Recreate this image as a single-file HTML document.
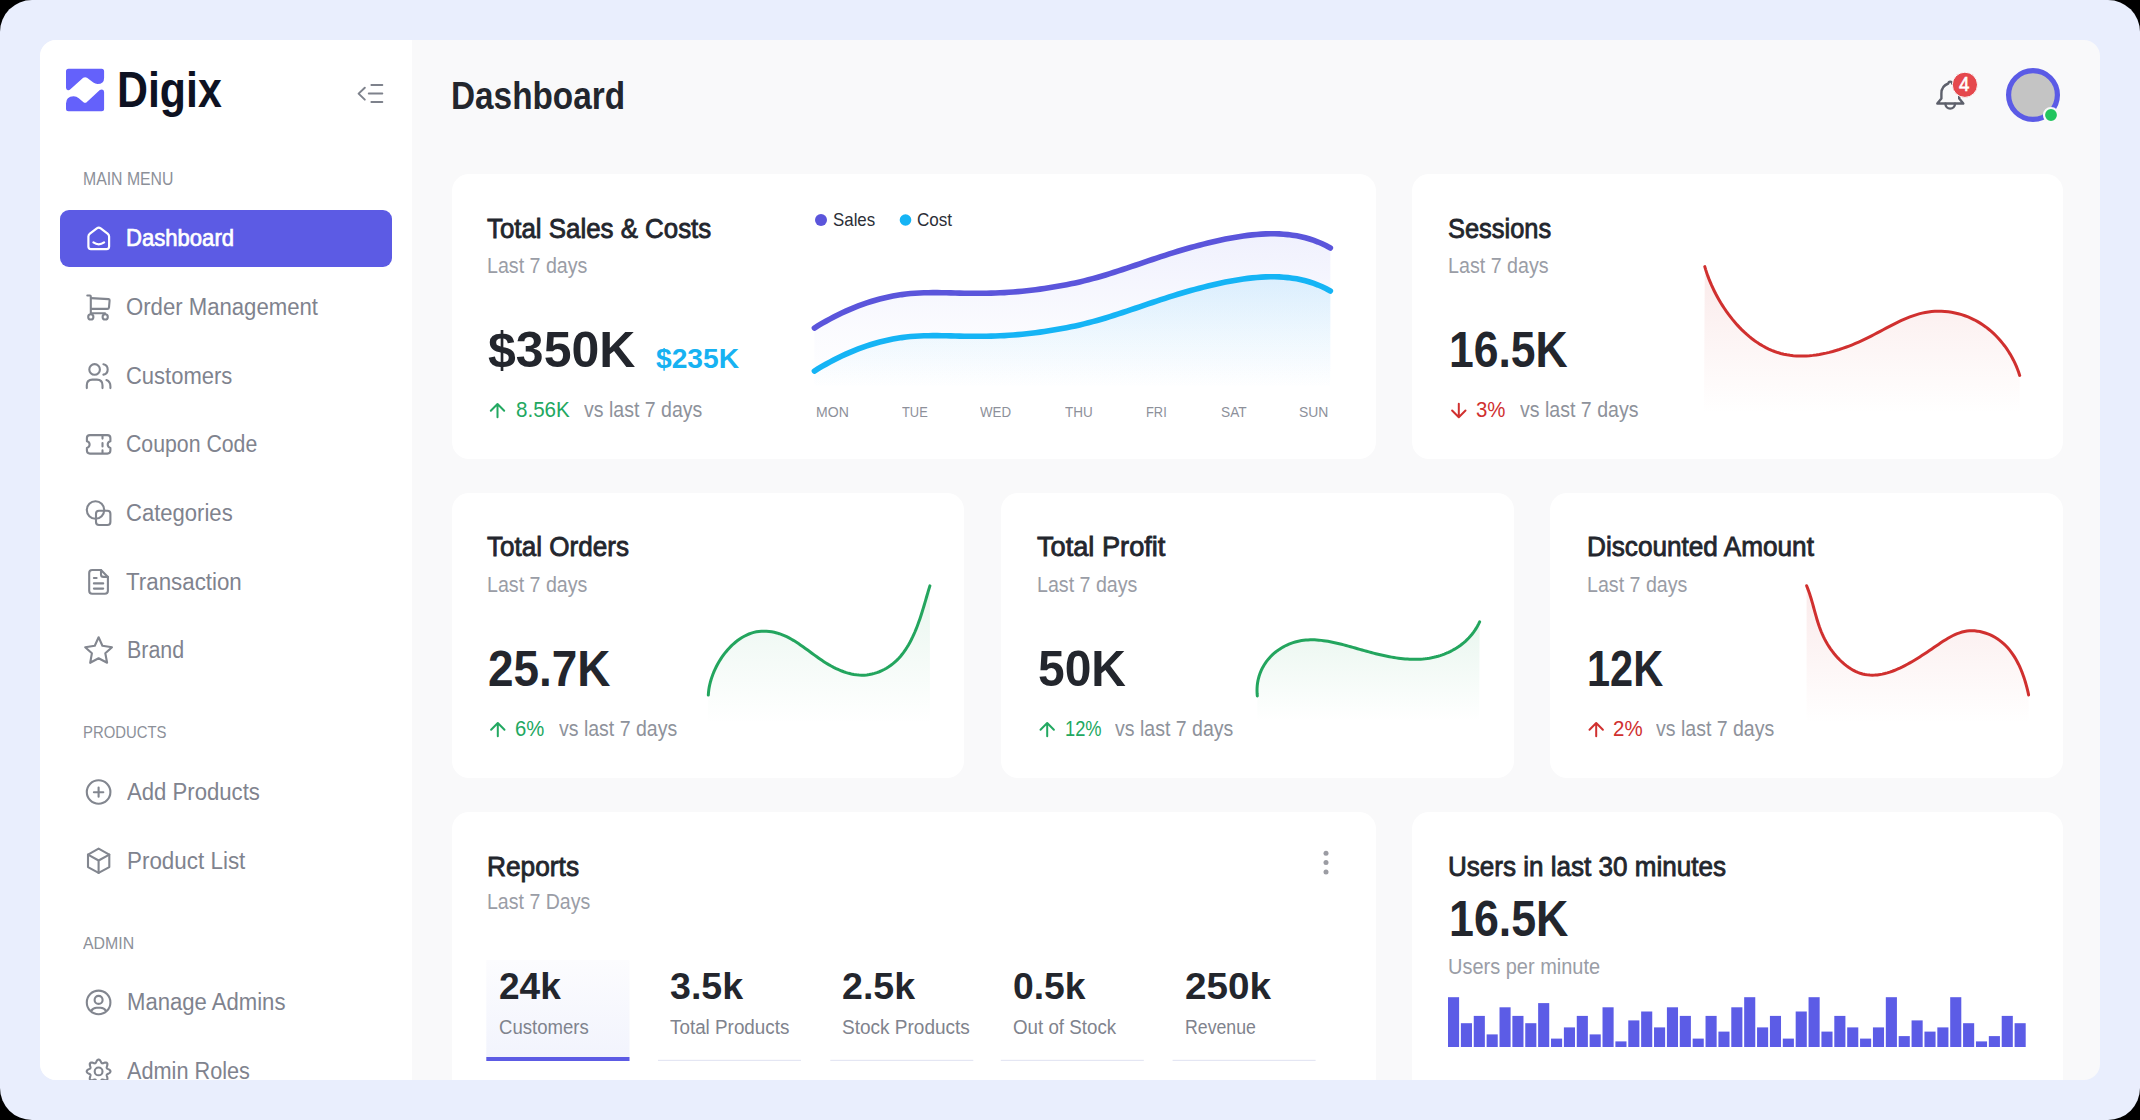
<!DOCTYPE html>
<html><head><meta charset="utf-8"><style>
html,body{margin:0;padding:0;background:#000;width:2140px;height:1120px;overflow:hidden}
#frame{position:absolute;left:0;top:0;width:2140px;height:1120px;border-radius:32px;background:#e9eefd;overflow:hidden}
#app{position:absolute;left:40px;top:40px;width:2060px;height:1040px;border-radius:16px;overflow:hidden;background:#f9f9fa}
#in{position:absolute;left:-40px;top:-40px;width:2140px;height:1120px}
#side{position:absolute;left:40px;top:40px;width:372px;height:1040px;background:#fff}
.card{position:absolute;background:#fff;border-radius:17px}
.active{position:absolute;left:60px;top:210px;width:332px;height:57px;border-radius:9px;background:#5c5be4}
.t{position:absolute;white-space:nowrap;font-family:"Liberation Sans",sans-serif;transform-origin:0 0}
svg{position:absolute;left:0;top:0}
</style></head><body>
<div id="frame"><div id="app"><div id="in">
<div id="side"></div>
<div class="active"></div>
<div class="card" style="left:452px;top:174px;width:924px;height:285px"></div><div class="card" style="left:1412px;top:174px;width:651px;height:285px"></div><div class="card" style="left:452px;top:493px;width:512px;height:285px"></div><div class="card" style="left:1001px;top:493px;width:513px;height:285px"></div><div class="card" style="left:1550px;top:493px;width:513px;height:285px"></div><div class="card" style="left:452px;top:812px;width:924px;height:400px"></div><div class="card" style="left:1412px;top:812px;width:651px;height:400px"></div>
<svg width="2140" height="1120" viewBox="0 0 2140 1120">
<g stroke="#fff" stroke-width="2.2" fill="none" stroke-linecap="round" stroke-linejoin="round"><path d="M88.4 246.5 V236.6 Q88.4 234.8 89.9 233.6 L96.8 228.3 Q98.75 226.9 100.7 228.3 L107.6 233.6 Q109.1 234.8 109.1 236.6 V246.5 Q109.1 249.1 106.5 249.1 H91 Q88.4 249.1 88.4 246.5 Z"/><path d="M93.4 242.4 Q98.75 246.2 104.1 242.4"/></g><g stroke="#82868f" stroke-width="2.1" fill="none" stroke-linecap="round" stroke-linejoin="round"><path d="M87.3 295.5 H90 Q90.8 295.5 90.8 296.5 V313.2"/><path d="M90.9 298.1 L108.6 299.1 Q109.7 299.2 109.6 300.3 L109 307.3 Q108.8 308.9 107.3 308.9 H91"/><path d="M91 313.2 H105"/><circle cx="90.8" cy="316.9" r="2.6"/><circle cx="105.2" cy="316.9" r="2.6"/></g><g stroke="#82868f" stroke-width="2.1" fill="none" stroke-linecap="round" stroke-linejoin="round"><circle cx="94.6" cy="369.4" r="5.3"/><path d="M103.4 364.2 A5.3 5.3 0 0 1 103.4 374.6"/><path d="M86.8 388.1 V385.2 Q86.8 379.6 92.4 379.6 H96.9 Q102.5 379.6 102.5 385.2 V388.1"/><path d="M106.4 380.1 Q110.4 381.6 110.4 386.2 V388.1"/></g><g stroke="#82868f" stroke-width="2.1" fill="none" stroke-linecap="round" stroke-linejoin="round"><path d="M89.9 435.1 H107.4 Q110.4 435.1 110.4 438.1 V441.3 Q107.7 442 107.7 444.6 Q107.7 447.2 110.4 447.9 V450.6 Q110.4 453.6 107.4 453.6 H89.9 Q86.9 453.6 86.9 450.6 V447.9 Q89.6 447.2 89.6 444.6 Q89.6 442 86.9 441.3 V438.1 Q86.9 435.1 89.9 435.1 Z"/><path d="M102.5 436 V438.6 M102.5 443 V446.4 M102.5 450.4 V452.8"/></g><g stroke="#82868f" stroke-width="2.1" fill="none" stroke-linecap="round" stroke-linejoin="round"><circle cx="95.5" cy="510" r="8.7"/><rect x="96" y="510.8" width="14.4" height="14.2" rx="3"/></g><g stroke="#82868f" stroke-width="2.1" fill="none" stroke-linecap="round" stroke-linejoin="round"><path d="M101 570 H92.2 Q89.2 570 89.2 573 V590.7 Q89.2 593.7 92.2 593.7 H104.9 Q107.9 593.7 107.9 590.7 V576.9 Z"/><path d="M101 570 V574.4 Q101 576.9 103.5 576.9 H107.9"/><path d="M93.9 578 H96.6 M93.9 583.4 H103.2 M93.9 588.6 H103.2"/></g><g stroke="#82868f" stroke-width="2.1" fill="none" stroke-linecap="round" stroke-linejoin="round"><path d="M98.6 637.3 L102.4 645.7 L112 647.2 L105.3 653.3 L107.1 662.8 L98.6 658.3 L90.2 662.8 L91.9 653.3 L85.2 647.2 L94.8 645.7 Z"/></g><g stroke="#82868f" stroke-width="2.1" fill="none" stroke-linecap="round" stroke-linejoin="round"><circle cx="98.6" cy="792" r="11.8"/><path d="M93.9 792.2 H103.3 M98.6 787.6 V796.8"/></g><g stroke="#82868f" stroke-width="2.1" fill="none" stroke-linecap="round" stroke-linejoin="round"><path d="M98.6 848.6 L109.3 854.6 V867.1 L98.6 872.9 L88 867.1 V854.6 Z"/><path d="M88 854.6 L98.6 860.5 L109.3 854.6 M98.6 860.5 V872.9"/></g><g stroke="#82868f" stroke-width="2.1" fill="none" stroke-linecap="round" stroke-linejoin="round"><circle cx="98.6" cy="1002.4" r="11.8"/><circle cx="98.6" cy="999.9" r="4"/><path d="M91.2 1010.9 Q93 1007.8 96.6 1007.8 H100.6 Q104.2 1007.8 106 1010.9"/></g><g stroke="#82868f" stroke-width="2.1" fill="none" stroke-linecap="round" stroke-linejoin="round"><path d="M110.50 1071.40 L110.42 1071.86 L110.17 1072.31 L109.78 1072.72 L109.30 1073.09 L108.75 1073.42 L108.20 1073.70 L107.68 1073.96 L107.25 1074.21 L106.93 1074.47 L106.73 1074.77 L106.66 1075.12 L106.70 1075.53 L106.84 1076.01 L107.02 1076.56 L107.21 1077.15 L107.36 1077.77 L107.44 1078.37 L107.42 1078.94 L107.28 1079.43 L107.01 1079.81 L106.63 1080.08 L106.14 1080.22 L105.57 1080.24 L104.97 1080.16 L104.35 1080.01 L103.76 1079.82 L103.21 1079.64 L102.73 1079.50 L102.32 1079.46 L101.97 1079.53 L101.67 1079.73 L101.41 1080.05 L101.16 1080.48 L100.90 1081.00 L100.62 1081.55 L100.29 1082.10 L99.92 1082.58 L99.51 1082.97 L99.06 1083.22 L98.60 1083.30 L98.14 1083.22 L97.69 1082.97 L97.28 1082.58 L96.91 1082.10 L96.58 1081.55 L96.30 1081.00 L96.04 1080.48 L95.79 1080.05 L95.53 1079.73 L95.23 1079.53 L94.88 1079.46 L94.47 1079.50 L93.99 1079.64 L93.44 1079.82 L92.85 1080.01 L92.23 1080.16 L91.63 1080.24 L91.06 1080.22 L90.57 1080.08 L90.19 1079.81 L89.92 1079.43 L89.78 1078.94 L89.76 1078.37 L89.84 1077.77 L89.99 1077.15 L90.18 1076.56 L90.36 1076.01 L90.50 1075.53 L90.54 1075.12 L90.47 1074.77 L90.27 1074.47 L89.95 1074.21 L89.52 1073.96 L89.00 1073.70 L88.45 1073.42 L87.90 1073.09 L87.42 1072.72 L87.03 1072.31 L86.78 1071.86 L86.70 1071.40 L86.78 1070.94 L87.03 1070.49 L87.42 1070.08 L87.90 1069.71 L88.45 1069.38 L89.00 1069.10 L89.52 1068.84 L89.95 1068.59 L90.27 1068.33 L90.47 1068.03 L90.54 1067.68 L90.50 1067.27 L90.36 1066.79 L90.18 1066.24 L89.99 1065.65 L89.84 1065.03 L89.76 1064.43 L89.78 1063.86 L89.92 1063.37 L90.19 1062.99 L90.57 1062.72 L91.06 1062.58 L91.63 1062.56 L92.23 1062.64 L92.85 1062.79 L93.44 1062.98 L93.99 1063.16 L94.47 1063.30 L94.88 1063.34 L95.23 1063.27 L95.53 1063.07 L95.79 1062.75 L96.04 1062.32 L96.30 1061.80 L96.58 1061.25 L96.91 1060.70 L97.28 1060.22 L97.69 1059.83 L98.14 1059.58 L98.60 1059.50 L99.06 1059.58 L99.51 1059.83 L99.92 1060.22 L100.29 1060.70 L100.62 1061.25 L100.90 1061.80 L101.16 1062.32 L101.41 1062.75 L101.67 1063.07 L101.97 1063.27 L102.32 1063.34 L102.73 1063.30 L103.21 1063.16 L103.76 1062.98 L104.35 1062.79 L104.97 1062.64 L105.57 1062.56 L106.14 1062.58 L106.63 1062.72 L107.01 1062.99 L107.28 1063.37 L107.42 1063.86 L107.44 1064.43 L107.36 1065.03 L107.21 1065.65 L107.02 1066.24 L106.84 1066.79 L106.70 1067.27 L106.66 1067.68 L106.73 1068.03 L106.93 1068.33 L107.25 1068.59 L107.68 1068.84 L108.20 1069.10 L108.75 1069.38 L109.30 1069.71 L109.78 1070.08 L110.17 1070.49 L110.42 1070.94 L110.50 1071.40 Z"/><circle cx="98.6" cy="1071.4" r="3.9"/></g><g stroke="#7e828c" stroke-width="2" fill="none" stroke-linecap="round" stroke-linejoin="round"><path d="M364.8 87.7 L358.6 93.6 L364.8 99.6 M371.4 85 H382.3 M368.8 93.6 H382.3 M371.4 102.1 H382.3"/></g><g fill="#6461fb"><path d="M68.5 68.7 H101.6 Q104.1 68.7 104.1 71.2 V78 Q104.1 84 97.5 84 Q95.2 84 93.3 82.6 L87 77.8 Q85.1 76.6 83.2 77.8 L70.4 89.3 Q68.7 90.7 67.5 90 Q66 89.4 66 87.4 V71.2 Q66 68.7 68.5 68.7 Z"/><path d="M68.5 111.2 H101.6 Q104.1 111.2 104.1 108.7 V91.9 Q104.1 89.6 102 89.4 Q100.9 89.3 99.8 90.1 L86.9 101.9 Q85.1 103.6 83.2 101.9 L78.8 98.2 Q76.5 96.3 73.6 96.3 Q66 96.6 66 103.5 V108.7 Q66 111.2 68.5 111.2 Z"/></g><g stroke="#5d606b" stroke-width="2.4" fill="none" stroke-linecap="round" stroke-linejoin="round"><path d="M1950.2 81.6 Q1952 81.6 1952.2 83.5 Q1959.2 86 1959.2 93.5 V98.6 L1963.3 103.5 H1937.3 L1941.4 98.6 V93.5 Q1941.4 86 1948.3 83.5 Q1948.5 81.6 1950.2 81.6 Z"/><path d="M1945.4 103.8 A4.8 4.8 0 0 0 1955 103.8"/></g><circle cx="1964.9" cy="84.8" r="12.6" fill="#e5484d" stroke="#fafafa" stroke-width="1"/><circle cx="2033" cy="95" r="24.4" fill="#c4c4c4" stroke="#5b5be6" stroke-width="5.2"/><circle cx="2051" cy="115" r="7" fill="#22c55e" stroke="#fafafa" stroke-width="2.2"/><g stroke="#22a861" stroke-width="2" fill="none" stroke-linecap="round" stroke-linejoin="round"><path d="M497.5 417.2 V404.4 M490.8 410.7 L497.5 404 L504.2 410.7"/></g><g stroke="#d0302f" stroke-width="2" fill="none" stroke-linecap="round" stroke-linejoin="round"><path d="M1458.8 403.8 V416.8 M1452.1 410.5 L1458.8 417.2 L1465.5 410.5"/></g><g stroke="#22a861" stroke-width="2" fill="none" stroke-linecap="round" stroke-linejoin="round"><path d="M497.8 736.2 V723.4 M491.1 729.7 L497.8 723 L504.5 729.7"/></g><g stroke="#22a861" stroke-width="2" fill="none" stroke-linecap="round" stroke-linejoin="round"><path d="M1047.2 736.2 V723.4 M1040.5 729.7 L1047.2 723 L1053.9 729.7"/></g><g stroke="#d0302f" stroke-width="2" fill="none" stroke-linecap="round" stroke-linejoin="round"><path d="M1596.2 736.2 V723.4 M1589.5 729.7 L1596.2 723 L1602.9 729.7"/></g><g fill="#9b9ca3"><circle cx="1326" cy="853.2" r="2.5"/><circle cx="1326" cy="862.6" r="2.5"/><circle cx="1326" cy="872" r="2.5"/></g><circle cx="821" cy="220" r="6" fill="#5b55db"/><circle cx="905.5" cy="220" r="5.8" fill="#15b4f5"/><g fill="#5c5ce6"><rect x="1448.00" y="997.20" width="11.1" height="49.80"/><rect x="1460.88" y="1023.20" width="11.1" height="23.80"/><rect x="1473.75" y="1015.90" width="11.1" height="31.10"/><rect x="1486.63" y="1034.40" width="11.1" height="12.60"/><rect x="1499.51" y="1007.30" width="11.1" height="39.70"/><rect x="1512.38" y="1015.90" width="11.1" height="31.10"/><rect x="1525.26" y="1023.20" width="11.1" height="23.80"/><rect x="1538.14" y="1003.10" width="11.1" height="43.90"/><rect x="1551.02" y="1038.60" width="11.1" height="8.40"/><rect x="1563.89" y="1027.40" width="11.1" height="19.60"/><rect x="1576.77" y="1015.90" width="11.1" height="31.10"/><rect x="1589.65" y="1034.40" width="11.1" height="12.60"/><rect x="1602.52" y="1007.30" width="11.1" height="39.70"/><rect x="1615.40" y="1041.40" width="11.1" height="5.60"/><rect x="1628.28" y="1020.40" width="11.1" height="26.60"/><rect x="1641.15" y="1011.50" width="11.1" height="35.50"/><rect x="1654.03" y="1027.40" width="11.1" height="19.60"/><rect x="1666.91" y="1007.30" width="11.1" height="39.70"/><rect x="1679.79" y="1015.90" width="11.1" height="31.10"/><rect x="1692.66" y="1038.60" width="11.1" height="8.40"/><rect x="1705.54" y="1015.90" width="11.1" height="31.10"/><rect x="1718.42" y="1031.60" width="11.1" height="15.40"/><rect x="1731.29" y="1007.30" width="11.1" height="39.70"/><rect x="1744.17" y="997.20" width="11.1" height="49.80"/><rect x="1757.05" y="1027.40" width="11.1" height="19.60"/><rect x="1769.92" y="1015.90" width="11.1" height="31.10"/><rect x="1782.80" y="1038.60" width="11.1" height="8.40"/><rect x="1795.68" y="1011.50" width="11.1" height="35.50"/><rect x="1808.56" y="997.20" width="11.1" height="49.80"/><rect x="1821.43" y="1031.60" width="11.1" height="15.40"/><rect x="1834.31" y="1015.90" width="11.1" height="31.10"/><rect x="1847.19" y="1027.40" width="11.1" height="19.60"/><rect x="1860.06" y="1038.60" width="11.1" height="8.40"/><rect x="1872.94" y="1027.40" width="11.1" height="19.60"/><rect x="1885.82" y="997.20" width="11.1" height="49.80"/><rect x="1898.70" y="1036.10" width="11.1" height="10.90"/><rect x="1911.57" y="1020.40" width="11.1" height="26.60"/><rect x="1924.45" y="1031.60" width="11.1" height="15.40"/><rect x="1937.33" y="1027.40" width="11.1" height="19.60"/><rect x="1950.20" y="997.20" width="11.1" height="49.80"/><rect x="1963.08" y="1023.20" width="11.1" height="23.80"/><rect x="1975.96" y="1041.40" width="11.1" height="5.60"/><rect x="1988.83" y="1036.10" width="11.1" height="10.90"/><rect x="2001.71" y="1015.90" width="11.1" height="31.10"/><rect x="2014.59" y="1023.20" width="11.1" height="23.80"/></g><defs><linearGradient id="tabg" x1="0" y1="960" x2="0" y2="1057" gradientUnits="userSpaceOnUse"><stop offset="0" stop-color="#fcfcfe"/><stop offset="1" stop-color="#f2f4fd"/></linearGradient></defs><rect x="486.3" y="960" width="143.2" height="97" fill="url(#tabg)"/><rect x="486.3" y="1057" width="143.2" height="4" fill="#5c5be4"/><rect x="658" y="1059.8" width="143" height="1.2" fill="#e4e6f3"/><rect x="830.3" y="1059.8" width="143" height="1.2" fill="#e4e6f3"/><rect x="1000.8" y="1059.8" width="143" height="1.2" fill="#e4e6f3"/><rect x="1172.6" y="1059.8" width="143" height="1.2" fill="#e4e6f3"/><defs><linearGradient id="gs" x1="0" y1="234" x2="0" y2="390" gradientUnits="userSpaceOnUse"><stop offset="0" stop-color="#6470ee" stop-opacity="0.10"/><stop offset="0.6" stop-color="#6470ee" stop-opacity="0.03"/><stop offset="1" stop-color="#6470ee" stop-opacity="0"/></linearGradient><linearGradient id="gc" x1="0" y1="277" x2="0" y2="388" gradientUnits="userSpaceOnUse"><stop offset="0" stop-color="#1ab8f8" stop-opacity="0.12"/><stop offset="1" stop-color="#15b4f5" stop-opacity="0"/></linearGradient></defs><path d="M814.40 328.08 L818.16 325.74 L821.97 323.46 L825.84 321.24 L829.75 319.08 L833.71 316.99 L837.71 314.96 L841.76 313.01 L845.84 311.13 L849.97 309.32 L854.13 307.60 L858.32 305.95 L862.55 304.39 L866.80 302.92 L871.09 301.54 L875.40 300.25 L879.73 299.05 L884.08 297.95 L888.45 296.96 L892.85 296.06 L897.25 295.28 L901.67 294.60 L906.10 294.03 L910.54 293.58 L914.99 293.22 L919.44 292.97 L923.90 292.79 L928.37 292.69 L932.84 292.65 L937.31 292.66 L941.79 292.71 L946.27 292.79 L950.75 292.89 L955.23 292.99 L959.71 293.10 L964.19 293.19 L968.67 293.26 L973.15 293.30 L977.62 293.31 L982.09 293.28 L986.55 293.22 L991.02 293.12 L995.48 292.98 L999.94 292.80 L1004.40 292.58 L1008.85 292.32 L1013.30 292.01 L1017.76 291.65 L1022.21 291.25 L1026.66 290.79 L1031.10 290.29 L1035.55 289.73 L1039.99 289.13 L1044.43 288.48 L1048.87 287.79 L1053.29 287.07 L1057.72 286.31 L1062.13 285.52 L1066.54 284.70 L1070.94 283.83 L1075.32 282.91 L1079.69 281.93 L1084.04 280.90 L1088.38 279.81 L1092.71 278.66 L1097.02 277.47 L1101.32 276.23 L1105.61 274.95 L1109.89 273.64 L1114.16 272.29 L1118.42 270.92 L1122.68 269.52 L1126.93 268.11 L1131.17 266.68 L1135.42 265.24 L1139.65 263.80 L1143.89 262.36 L1148.12 260.92 L1152.36 259.49 L1156.60 258.07 L1160.84 256.67 L1165.08 255.29 L1169.32 253.93 L1173.58 252.60 L1177.83 251.30 L1182.10 250.02 L1186.38 248.77 L1190.67 247.55 L1194.97 246.36 L1199.28 245.21 L1203.60 244.09 L1207.95 243.01 L1212.31 241.97 L1216.69 240.97 L1221.08 240.01 L1225.50 239.09 L1229.94 238.22 L1234.39 237.41 L1238.86 236.66 L1243.33 235.98 L1247.81 235.37 L1252.30 234.85 L1256.78 234.43 L1261.27 234.10 L1265.75 233.88 L1270.22 233.77 L1274.68 233.77 L1279.13 233.91 L1283.56 234.18 L1287.97 234.59 L1292.36 235.15 L1296.72 235.86 L1301.06 236.74 L1305.36 237.79 L1309.63 239.01 L1313.87 240.41 L1318.06 242.01 L1322.21 243.80 L1326.32 245.80 L1330.37 248.00 L1330.3 390 L814.4 390 Z" fill="url(#gs)"/><path d="M814.40 371.08 L818.16 368.74 L821.97 366.46 L825.84 364.24 L829.75 362.08 L833.71 359.99 L837.71 357.96 L841.76 356.01 L845.84 354.13 L849.97 352.32 L854.13 350.60 L858.32 348.95 L862.55 347.39 L866.80 345.92 L871.09 344.54 L875.40 343.25 L879.73 342.05 L884.08 340.95 L888.45 339.96 L892.85 339.06 L897.25 338.28 L901.67 337.60 L906.10 337.03 L910.54 336.58 L914.99 336.22 L919.44 335.97 L923.90 335.79 L928.37 335.69 L932.84 335.65 L937.31 335.66 L941.79 335.71 L946.27 335.79 L950.75 335.89 L955.23 335.99 L959.71 336.10 L964.19 336.19 L968.67 336.26 L973.15 336.30 L977.62 336.31 L982.09 336.28 L986.55 336.22 L991.02 336.12 L995.48 335.98 L999.94 335.80 L1004.40 335.58 L1008.85 335.32 L1013.30 335.01 L1017.76 334.65 L1022.21 334.25 L1026.66 333.79 L1031.10 333.29 L1035.55 332.73 L1039.99 332.13 L1044.43 331.48 L1048.87 330.79 L1053.29 330.07 L1057.72 329.31 L1062.13 328.52 L1066.54 327.70 L1070.94 326.83 L1075.32 325.91 L1079.69 324.93 L1084.04 323.90 L1088.38 322.81 L1092.71 321.66 L1097.02 320.47 L1101.32 319.23 L1105.61 317.95 L1109.89 316.64 L1114.16 315.29 L1118.42 313.92 L1122.68 312.52 L1126.93 311.11 L1131.17 309.68 L1135.42 308.24 L1139.65 306.80 L1143.89 305.36 L1148.12 303.92 L1152.36 302.49 L1156.60 301.07 L1160.84 299.67 L1165.08 298.29 L1169.32 296.93 L1173.58 295.60 L1177.83 294.30 L1182.10 293.02 L1186.38 291.77 L1190.67 290.55 L1194.97 289.36 L1199.28 288.21 L1203.60 287.09 L1207.95 286.01 L1212.31 284.97 L1216.69 283.97 L1221.08 283.01 L1225.50 282.09 L1229.94 281.22 L1234.39 280.41 L1238.86 279.66 L1243.33 278.98 L1247.81 278.37 L1252.30 277.85 L1256.78 277.43 L1261.27 277.10 L1265.75 276.88 L1270.22 276.77 L1274.68 276.77 L1279.13 276.91 L1283.56 277.18 L1287.97 277.59 L1292.36 278.15 L1296.72 278.86 L1301.06 279.74 L1305.36 280.79 L1309.63 282.01 L1313.87 283.41 L1318.06 285.01 L1322.21 286.80 L1326.32 288.80 L1330.37 291.00 L1330.3 390 L814.4 390 Z" fill="url(#gc)"/><path d="M814.40 328.08 L818.16 325.74 L821.97 323.46 L825.84 321.24 L829.75 319.08 L833.71 316.99 L837.71 314.96 L841.76 313.01 L845.84 311.13 L849.97 309.32 L854.13 307.60 L858.32 305.95 L862.55 304.39 L866.80 302.92 L871.09 301.54 L875.40 300.25 L879.73 299.05 L884.08 297.95 L888.45 296.96 L892.85 296.06 L897.25 295.28 L901.67 294.60 L906.10 294.03 L910.54 293.58 L914.99 293.22 L919.44 292.97 L923.90 292.79 L928.37 292.69 L932.84 292.65 L937.31 292.66 L941.79 292.71 L946.27 292.79 L950.75 292.89 L955.23 292.99 L959.71 293.10 L964.19 293.19 L968.67 293.26 L973.15 293.30 L977.62 293.31 L982.09 293.28 L986.55 293.22 L991.02 293.12 L995.48 292.98 L999.94 292.80 L1004.40 292.58 L1008.85 292.32 L1013.30 292.01 L1017.76 291.65 L1022.21 291.25 L1026.66 290.79 L1031.10 290.29 L1035.55 289.73 L1039.99 289.13 L1044.43 288.48 L1048.87 287.79 L1053.29 287.07 L1057.72 286.31 L1062.13 285.52 L1066.54 284.70 L1070.94 283.83 L1075.32 282.91 L1079.69 281.93 L1084.04 280.90 L1088.38 279.81 L1092.71 278.66 L1097.02 277.47 L1101.32 276.23 L1105.61 274.95 L1109.89 273.64 L1114.16 272.29 L1118.42 270.92 L1122.68 269.52 L1126.93 268.11 L1131.17 266.68 L1135.42 265.24 L1139.65 263.80 L1143.89 262.36 L1148.12 260.92 L1152.36 259.49 L1156.60 258.07 L1160.84 256.67 L1165.08 255.29 L1169.32 253.93 L1173.58 252.60 L1177.83 251.30 L1182.10 250.02 L1186.38 248.77 L1190.67 247.55 L1194.97 246.36 L1199.28 245.21 L1203.60 244.09 L1207.95 243.01 L1212.31 241.97 L1216.69 240.97 L1221.08 240.01 L1225.50 239.09 L1229.94 238.22 L1234.39 237.41 L1238.86 236.66 L1243.33 235.98 L1247.81 235.37 L1252.30 234.85 L1256.78 234.43 L1261.27 234.10 L1265.75 233.88 L1270.22 233.77 L1274.68 233.77 L1279.13 233.91 L1283.56 234.18 L1287.97 234.59 L1292.36 235.15 L1296.72 235.86 L1301.06 236.74 L1305.36 237.79 L1309.63 239.01 L1313.87 240.41 L1318.06 242.01 L1322.21 243.80 L1326.32 245.80 L1330.37 248.00" stroke="#5b55db" stroke-width="5.6" fill="none" stroke-linecap="round"/><path d="M814.40 371.08 L818.16 368.74 L821.97 366.46 L825.84 364.24 L829.75 362.08 L833.71 359.99 L837.71 357.96 L841.76 356.01 L845.84 354.13 L849.97 352.32 L854.13 350.60 L858.32 348.95 L862.55 347.39 L866.80 345.92 L871.09 344.54 L875.40 343.25 L879.73 342.05 L884.08 340.95 L888.45 339.96 L892.85 339.06 L897.25 338.28 L901.67 337.60 L906.10 337.03 L910.54 336.58 L914.99 336.22 L919.44 335.97 L923.90 335.79 L928.37 335.69 L932.84 335.65 L937.31 335.66 L941.79 335.71 L946.27 335.79 L950.75 335.89 L955.23 335.99 L959.71 336.10 L964.19 336.19 L968.67 336.26 L973.15 336.30 L977.62 336.31 L982.09 336.28 L986.55 336.22 L991.02 336.12 L995.48 335.98 L999.94 335.80 L1004.40 335.58 L1008.85 335.32 L1013.30 335.01 L1017.76 334.65 L1022.21 334.25 L1026.66 333.79 L1031.10 333.29 L1035.55 332.73 L1039.99 332.13 L1044.43 331.48 L1048.87 330.79 L1053.29 330.07 L1057.72 329.31 L1062.13 328.52 L1066.54 327.70 L1070.94 326.83 L1075.32 325.91 L1079.69 324.93 L1084.04 323.90 L1088.38 322.81 L1092.71 321.66 L1097.02 320.47 L1101.32 319.23 L1105.61 317.95 L1109.89 316.64 L1114.16 315.29 L1118.42 313.92 L1122.68 312.52 L1126.93 311.11 L1131.17 309.68 L1135.42 308.24 L1139.65 306.80 L1143.89 305.36 L1148.12 303.92 L1152.36 302.49 L1156.60 301.07 L1160.84 299.67 L1165.08 298.29 L1169.32 296.93 L1173.58 295.60 L1177.83 294.30 L1182.10 293.02 L1186.38 291.77 L1190.67 290.55 L1194.97 289.36 L1199.28 288.21 L1203.60 287.09 L1207.95 286.01 L1212.31 284.97 L1216.69 283.97 L1221.08 283.01 L1225.50 282.09 L1229.94 281.22 L1234.39 280.41 L1238.86 279.66 L1243.33 278.98 L1247.81 278.37 L1252.30 277.85 L1256.78 277.43 L1261.27 277.10 L1265.75 276.88 L1270.22 276.77 L1274.68 276.77 L1279.13 276.91 L1283.56 277.18 L1287.97 277.59 L1292.36 278.15 L1296.72 278.86 L1301.06 279.74 L1305.36 280.79 L1309.63 282.01 L1313.87 283.41 L1318.06 285.01 L1322.21 286.80 L1326.32 288.80 L1330.37 291.00" stroke="#15b4f5" stroke-width="5.6" fill="none" stroke-linecap="round"/><defs><linearGradient id="g1" x1="0" y1="266.7" x2="0" y2="414" gradientUnits="userSpaceOnUse"><stop offset="0" stop-color="#d0302f" stop-opacity="0.10"/><stop offset="1" stop-color="#d0302f" stop-opacity="0"/></linearGradient></defs><path d="M1704.78 266.66 L1705.66 269.62 L1706.63 272.61 L1707.68 275.62 L1708.81 278.63 L1710.03 281.66 L1711.32 284.69 L1712.70 287.73 L1714.15 290.75 L1715.68 293.77 L1717.29 296.77 L1718.97 299.75 L1720.72 302.71 L1722.54 305.63 L1724.43 308.52 L1726.39 311.38 L1728.41 314.18 L1730.51 316.94 L1732.66 319.64 L1734.88 322.29 L1737.15 324.87 L1739.49 327.38 L1741.88 329.82 L1744.33 332.17 L1746.84 334.45 L1749.40 336.64 L1752.01 338.73 L1754.68 340.72 L1757.39 342.61 L1760.15 344.40 L1762.96 346.07 L1765.81 347.62 L1768.71 349.05 L1771.64 350.35 L1774.62 351.52 L1777.64 352.56 L1780.70 353.45 L1783.79 354.20 L1786.92 354.82 L1790.07 355.31 L1793.26 355.67 L1796.47 355.91 L1799.70 356.03 L1802.95 356.03 L1806.21 355.92 L1809.50 355.70 L1812.79 355.38 L1816.09 354.96 L1819.40 354.44 L1822.72 353.83 L1826.03 353.13 L1829.35 352.35 L1832.66 351.48 L1835.96 350.53 L1839.26 349.52 L1842.54 348.43 L1845.81 347.27 L1849.06 346.05 L1852.29 344.77 L1855.50 343.44 L1858.69 342.06 L1861.84 340.63 L1864.97 339.15 L1868.07 337.64 L1871.13 336.09 L1874.17 334.52 L1877.19 332.93 L1880.19 331.34 L1883.17 329.75 L1886.14 328.17 L1889.10 326.61 L1892.06 325.08 L1895.01 323.58 L1897.97 322.13 L1900.93 320.73 L1903.90 319.39 L1906.88 318.12 L1909.88 316.93 L1912.89 315.83 L1915.94 314.82 L1919.00 313.92 L1922.10 313.13 L1925.23 312.46 L1928.39 311.92 L1931.60 311.51 L1934.85 311.26 L1938.15 311.15 L1941.49 311.20 L1944.85 311.41 L1948.23 311.77 L1951.60 312.27 L1954.97 312.92 L1958.32 313.72 L1961.63 314.66 L1964.89 315.74 L1968.09 316.95 L1971.22 318.31 L1974.28 319.79 L1977.27 321.40 L1980.18 323.13 L1983.01 324.98 L1985.76 326.93 L1988.43 329.00 L1991.01 331.16 L1993.52 333.42 L1995.93 335.77 L1998.26 338.21 L2000.49 340.72 L2002.64 343.32 L2004.69 345.98 L2006.65 348.72 L2008.51 351.51 L2010.27 354.36 L2011.93 357.26 L2013.48 360.20 L2014.94 363.19 L2016.29 366.21 L2017.53 369.27 L2018.66 372.35 L2019.68 375.45 L2019.7 414 L1704 414 Z" fill="url(#g1)"/><path d="M1704.78 266.66 L1705.66 269.62 L1706.63 272.61 L1707.68 275.62 L1708.81 278.63 L1710.03 281.66 L1711.32 284.69 L1712.70 287.73 L1714.15 290.75 L1715.68 293.77 L1717.29 296.77 L1718.97 299.75 L1720.72 302.71 L1722.54 305.63 L1724.43 308.52 L1726.39 311.38 L1728.41 314.18 L1730.51 316.94 L1732.66 319.64 L1734.88 322.29 L1737.15 324.87 L1739.49 327.38 L1741.88 329.82 L1744.33 332.17 L1746.84 334.45 L1749.40 336.64 L1752.01 338.73 L1754.68 340.72 L1757.39 342.61 L1760.15 344.40 L1762.96 346.07 L1765.81 347.62 L1768.71 349.05 L1771.64 350.35 L1774.62 351.52 L1777.64 352.56 L1780.70 353.45 L1783.79 354.20 L1786.92 354.82 L1790.07 355.31 L1793.26 355.67 L1796.47 355.91 L1799.70 356.03 L1802.95 356.03 L1806.21 355.92 L1809.50 355.70 L1812.79 355.38 L1816.09 354.96 L1819.40 354.44 L1822.72 353.83 L1826.03 353.13 L1829.35 352.35 L1832.66 351.48 L1835.96 350.53 L1839.26 349.52 L1842.54 348.43 L1845.81 347.27 L1849.06 346.05 L1852.29 344.77 L1855.50 343.44 L1858.69 342.06 L1861.84 340.63 L1864.97 339.15 L1868.07 337.64 L1871.13 336.09 L1874.17 334.52 L1877.19 332.93 L1880.19 331.34 L1883.17 329.75 L1886.14 328.17 L1889.10 326.61 L1892.06 325.08 L1895.01 323.58 L1897.97 322.13 L1900.93 320.73 L1903.90 319.39 L1906.88 318.12 L1909.88 316.93 L1912.89 315.83 L1915.94 314.82 L1919.00 313.92 L1922.10 313.13 L1925.23 312.46 L1928.39 311.92 L1931.60 311.51 L1934.85 311.26 L1938.15 311.15 L1941.49 311.20 L1944.85 311.41 L1948.23 311.77 L1951.60 312.27 L1954.97 312.92 L1958.32 313.72 L1961.63 314.66 L1964.89 315.74 L1968.09 316.95 L1971.22 318.31 L1974.28 319.79 L1977.27 321.40 L1980.18 323.13 L1983.01 324.98 L1985.76 326.93 L1988.43 329.00 L1991.01 331.16 L1993.52 333.42 L1995.93 335.77 L1998.26 338.21 L2000.49 340.72 L2002.64 343.32 L2004.69 345.98 L2006.65 348.72 L2008.51 351.51 L2010.27 354.36 L2011.93 357.26 L2013.48 360.20 L2014.94 363.19 L2016.29 366.21 L2017.53 369.27 L2018.66 372.35 L2019.68 375.45" stroke="#d0302f" stroke-width="3" fill="none" stroke-linecap="round"/><defs><linearGradient id="g2" x1="0" y1="585.7" x2="0" y2="724" gradientUnits="userSpaceOnUse"><stop offset="0" stop-color="#23a55e" stop-opacity="0.10"/><stop offset="1" stop-color="#23a55e" stop-opacity="0"/></linearGradient></defs><path d="M708.31 695.05 L708.48 692.52 L708.78 689.96 L709.19 687.37 L709.72 684.76 L710.36 682.13 L711.11 679.51 L711.97 676.88 L712.93 674.26 L713.98 671.66 L715.14 669.08 L716.38 666.52 L717.72 664.00 L719.14 661.53 L720.65 659.10 L722.24 656.73 L723.91 654.41 L725.66 652.17 L727.48 650.01 L729.36 647.92 L731.32 645.93 L733.33 644.03 L735.41 642.24 L737.55 640.55 L739.73 638.99 L741.98 637.54 L744.27 636.23 L746.60 635.05 L748.98 634.01 L751.40 633.13 L753.85 632.40 L756.34 631.84 L758.85 631.44 L761.39 631.21 L763.95 631.13 L766.52 631.21 L769.09 631.43 L771.65 631.79 L774.22 632.29 L776.76 632.93 L779.29 633.69 L781.78 634.57 L784.25 635.58 L786.68 636.69 L789.08 637.90 L791.45 639.21 L793.80 640.59 L796.14 642.05 L798.45 643.57 L800.75 645.14 L803.05 646.76 L805.34 648.41 L807.63 650.08 L809.92 651.77 L812.21 653.46 L814.52 655.14 L816.83 656.81 L819.17 658.46 L821.52 660.07 L823.90 661.64 L826.30 663.15 L828.72 664.61 L831.17 666.00 L833.64 667.31 L836.13 668.55 L838.64 669.70 L841.16 670.76 L843.69 671.72 L846.24 672.58 L848.80 673.33 L851.36 673.96 L853.93 674.47 L856.50 674.84 L859.08 675.08 L861.66 675.18 L864.23 675.13 L866.80 674.93 L869.36 674.57 L871.91 674.07 L874.43 673.43 L876.92 672.65 L879.37 671.74 L881.79 670.69 L884.15 669.53 L886.46 668.24 L888.71 666.83 L890.89 665.31 L893.00 663.68 L895.03 661.94 L896.98 660.11 L898.84 658.18 L900.63 656.16 L902.34 654.05 L903.97 651.87 L905.54 649.61 L907.04 647.29 L908.48 644.91 L909.85 642.46 L911.16 639.97 L912.42 637.44 L913.62 634.86 L914.78 632.25 L915.88 629.61 L916.94 626.95 L917.96 624.27 L918.93 621.58 L919.87 618.89 L920.77 616.19 L921.64 613.50 L922.49 610.82 L923.30 608.16 L924.09 605.51 L924.86 602.90 L925.62 600.32 L926.35 597.77 L927.08 595.27 L927.79 592.82 L928.50 590.43 L929.20 588.10 L929.90 585.83 L930 724 L707.9 724 Z" fill="url(#g2)"/><path d="M708.31 695.05 L708.48 692.52 L708.78 689.96 L709.19 687.37 L709.72 684.76 L710.36 682.13 L711.11 679.51 L711.97 676.88 L712.93 674.26 L713.98 671.66 L715.14 669.08 L716.38 666.52 L717.72 664.00 L719.14 661.53 L720.65 659.10 L722.24 656.73 L723.91 654.41 L725.66 652.17 L727.48 650.01 L729.36 647.92 L731.32 645.93 L733.33 644.03 L735.41 642.24 L737.55 640.55 L739.73 638.99 L741.98 637.54 L744.27 636.23 L746.60 635.05 L748.98 634.01 L751.40 633.13 L753.85 632.40 L756.34 631.84 L758.85 631.44 L761.39 631.21 L763.95 631.13 L766.52 631.21 L769.09 631.43 L771.65 631.79 L774.22 632.29 L776.76 632.93 L779.29 633.69 L781.78 634.57 L784.25 635.58 L786.68 636.69 L789.08 637.90 L791.45 639.21 L793.80 640.59 L796.14 642.05 L798.45 643.57 L800.75 645.14 L803.05 646.76 L805.34 648.41 L807.63 650.08 L809.92 651.77 L812.21 653.46 L814.52 655.14 L816.83 656.81 L819.17 658.46 L821.52 660.07 L823.90 661.64 L826.30 663.15 L828.72 664.61 L831.17 666.00 L833.64 667.31 L836.13 668.55 L838.64 669.70 L841.16 670.76 L843.69 671.72 L846.24 672.58 L848.80 673.33 L851.36 673.96 L853.93 674.47 L856.50 674.84 L859.08 675.08 L861.66 675.18 L864.23 675.13 L866.80 674.93 L869.36 674.57 L871.91 674.07 L874.43 673.43 L876.92 672.65 L879.37 671.74 L881.79 670.69 L884.15 669.53 L886.46 668.24 L888.71 666.83 L890.89 665.31 L893.00 663.68 L895.03 661.94 L896.98 660.11 L898.84 658.18 L900.63 656.16 L902.34 654.05 L903.97 651.87 L905.54 649.61 L907.04 647.29 L908.48 644.91 L909.85 642.46 L911.16 639.97 L912.42 637.44 L913.62 634.86 L914.78 632.25 L915.88 629.61 L916.94 626.95 L917.96 624.27 L918.93 621.58 L919.87 618.89 L920.77 616.19 L921.64 613.50 L922.49 610.82 L923.30 608.16 L924.09 605.51 L924.86 602.90 L925.62 600.32 L926.35 597.77 L927.08 595.27 L927.79 592.82 L928.50 590.43 L929.20 588.10 L929.90 585.83" stroke="#23a55e" stroke-width="3" fill="none" stroke-linecap="round"/><defs><linearGradient id="g3" x1="0" y1="622.2" x2="0" y2="722" gradientUnits="userSpaceOnUse"><stop offset="0" stop-color="#23a55e" stop-opacity="0.10"/><stop offset="1" stop-color="#23a55e" stop-opacity="0"/></linearGradient></defs><path d="M1257.30 695.90 L1257.09 693.22 L1257.02 690.60 L1257.07 688.02 L1257.25 685.50 L1257.55 683.04 L1257.97 680.63 L1258.50 678.28 L1259.14 675.99 L1259.89 673.76 L1260.73 671.59 L1261.68 669.48 L1262.72 667.43 L1263.85 665.45 L1265.06 663.53 L1266.36 661.68 L1267.74 659.90 L1269.19 658.18 L1270.71 656.54 L1272.30 654.96 L1273.95 653.46 L1275.66 652.03 L1277.43 650.67 L1279.25 649.39 L1281.11 648.19 L1283.02 647.06 L1284.97 646.01 L1286.96 645.05 L1288.97 644.16 L1291.02 643.35 L1293.09 642.63 L1295.18 641.99 L1297.29 641.44 L1299.41 640.97 L1301.55 640.59 L1303.69 640.28 L1305.85 640.06 L1308.01 639.91 L1310.19 639.83 L1312.38 639.81 L1314.57 639.87 L1316.78 639.98 L1318.99 640.15 L1321.21 640.37 L1323.44 640.65 L1325.67 640.97 L1327.92 641.34 L1330.16 641.75 L1332.42 642.20 L1334.68 642.68 L1336.94 643.20 L1339.21 643.74 L1341.48 644.31 L1343.76 644.90 L1346.04 645.51 L1348.32 646.13 L1350.61 646.76 L1352.89 647.41 L1355.18 648.06 L1357.47 648.71 L1359.76 649.36 L1362.04 650.01 L1364.33 650.65 L1366.62 651.28 L1368.91 651.90 L1371.19 652.51 L1373.48 653.10 L1375.76 653.68 L1378.04 654.24 L1380.32 654.77 L1382.60 655.29 L1384.87 655.79 L1387.14 656.26 L1389.41 656.70 L1391.67 657.12 L1393.93 657.50 L1396.19 657.86 L1398.44 658.17 L1400.69 658.46 L1402.94 658.71 L1405.18 658.92 L1407.41 659.08 L1409.64 659.21 L1411.87 659.29 L1414.08 659.33 L1416.30 659.32 L1418.50 659.26 L1420.70 659.15 L1422.89 658.99 L1425.08 658.77 L1427.26 658.49 L1429.43 658.16 L1431.59 657.77 L1433.75 657.32 L1435.90 656.80 L1438.03 656.22 L1440.16 655.58 L1442.28 654.86 L1444.38 654.08 L1446.47 653.24 L1448.53 652.32 L1450.57 651.34 L1452.58 650.29 L1454.56 649.18 L1456.50 647.99 L1458.41 646.74 L1460.28 645.42 L1462.11 644.03 L1463.89 642.57 L1465.63 641.05 L1467.31 639.45 L1468.94 637.78 L1470.51 636.05 L1472.02 634.24 L1473.46 632.37 L1474.84 630.42 L1476.15 628.41 L1477.39 626.32 L1478.55 624.16 L1479.63 621.93 L1479.2 722 L1257.3 722 Z" fill="url(#g3)"/><path d="M1257.30 695.90 L1257.09 693.22 L1257.02 690.60 L1257.07 688.02 L1257.25 685.50 L1257.55 683.04 L1257.97 680.63 L1258.50 678.28 L1259.14 675.99 L1259.89 673.76 L1260.73 671.59 L1261.68 669.48 L1262.72 667.43 L1263.85 665.45 L1265.06 663.53 L1266.36 661.68 L1267.74 659.90 L1269.19 658.18 L1270.71 656.54 L1272.30 654.96 L1273.95 653.46 L1275.66 652.03 L1277.43 650.67 L1279.25 649.39 L1281.11 648.19 L1283.02 647.06 L1284.97 646.01 L1286.96 645.05 L1288.97 644.16 L1291.02 643.35 L1293.09 642.63 L1295.18 641.99 L1297.29 641.44 L1299.41 640.97 L1301.55 640.59 L1303.69 640.28 L1305.85 640.06 L1308.01 639.91 L1310.19 639.83 L1312.38 639.81 L1314.57 639.87 L1316.78 639.98 L1318.99 640.15 L1321.21 640.37 L1323.44 640.65 L1325.67 640.97 L1327.92 641.34 L1330.16 641.75 L1332.42 642.20 L1334.68 642.68 L1336.94 643.20 L1339.21 643.74 L1341.48 644.31 L1343.76 644.90 L1346.04 645.51 L1348.32 646.13 L1350.61 646.76 L1352.89 647.41 L1355.18 648.06 L1357.47 648.71 L1359.76 649.36 L1362.04 650.01 L1364.33 650.65 L1366.62 651.28 L1368.91 651.90 L1371.19 652.51 L1373.48 653.10 L1375.76 653.68 L1378.04 654.24 L1380.32 654.77 L1382.60 655.29 L1384.87 655.79 L1387.14 656.26 L1389.41 656.70 L1391.67 657.12 L1393.93 657.50 L1396.19 657.86 L1398.44 658.17 L1400.69 658.46 L1402.94 658.71 L1405.18 658.92 L1407.41 659.08 L1409.64 659.21 L1411.87 659.29 L1414.08 659.33 L1416.30 659.32 L1418.50 659.26 L1420.70 659.15 L1422.89 658.99 L1425.08 658.77 L1427.26 658.49 L1429.43 658.16 L1431.59 657.77 L1433.75 657.32 L1435.90 656.80 L1438.03 656.22 L1440.16 655.58 L1442.28 654.86 L1444.38 654.08 L1446.47 653.24 L1448.53 652.32 L1450.57 651.34 L1452.58 650.29 L1454.56 649.18 L1456.50 647.99 L1458.41 646.74 L1460.28 645.42 L1462.11 644.03 L1463.89 642.57 L1465.63 641.05 L1467.31 639.45 L1468.94 637.78 L1470.51 636.05 L1472.02 634.24 L1473.46 632.37 L1474.84 630.42 L1476.15 628.41 L1477.39 626.32 L1478.55 624.16 L1479.63 621.93" stroke="#23a55e" stroke-width="3" fill="none" stroke-linecap="round"/><defs><linearGradient id="g4" x1="0" y1="585.7" x2="0" y2="724" gradientUnits="userSpaceOnUse"><stop offset="0" stop-color="#d0302f" stop-opacity="0.10"/><stop offset="1" stop-color="#d0302f" stop-opacity="0"/></linearGradient></defs><path d="M1806.61 585.73 L1807.65 588.36 L1808.61 590.98 L1809.52 593.59 L1810.36 596.19 L1811.17 598.78 L1811.93 601.37 L1812.67 603.94 L1813.38 606.51 L1814.09 609.07 L1814.79 611.62 L1815.49 614.16 L1816.21 616.70 L1816.94 619.22 L1817.71 621.74 L1818.52 624.25 L1819.37 626.75 L1820.28 629.24 L1821.25 631.73 L1822.30 634.20 L1823.42 636.67 L1824.64 639.13 L1825.95 641.58 L1827.36 644.01 L1828.88 646.44 L1830.50 648.83 L1832.21 651.19 L1834.00 653.49 L1835.88 655.73 L1837.83 657.91 L1839.84 659.99 L1841.93 661.99 L1844.07 663.88 L1846.26 665.66 L1848.49 667.31 L1850.77 668.82 L1853.08 670.18 L1855.42 671.39 L1857.79 672.43 L1860.17 673.29 L1862.58 673.98 L1865.00 674.51 L1867.43 674.88 L1869.88 675.10 L1872.34 675.17 L1874.81 675.10 L1877.29 674.90 L1879.78 674.57 L1882.28 674.13 L1884.78 673.56 L1887.29 672.89 L1889.80 672.11 L1892.32 671.23 L1894.84 670.27 L1897.35 669.22 L1899.86 668.09 L1902.38 666.88 L1904.88 665.61 L1907.38 664.28 L1909.88 662.89 L1912.36 661.46 L1914.84 659.98 L1917.31 658.46 L1919.76 656.91 L1922.20 655.34 L1924.63 653.75 L1927.04 652.14 L1929.43 650.53 L1931.81 648.92 L1934.16 647.31 L1936.50 645.72 L1938.81 644.14 L1941.12 642.60 L1943.41 641.10 L1945.70 639.66 L1947.99 638.28 L1950.28 636.98 L1952.59 635.77 L1954.91 634.66 L1957.25 633.67 L1959.62 632.80 L1962.02 632.07 L1964.46 631.48 L1966.93 631.06 L1969.46 630.81 L1972.03 630.74 L1974.64 630.85 L1977.27 631.14 L1979.92 631.59 L1982.57 632.21 L1985.20 632.98 L1987.81 633.91 L1990.37 634.98 L1992.87 636.19 L1995.31 637.53 L1997.66 639.00 L1999.91 640.60 L2002.06 642.31 L2004.12 644.12 L2006.07 646.04 L2007.93 648.05 L2009.70 650.15 L2011.37 652.33 L2012.96 654.59 L2014.47 656.91 L2015.89 659.29 L2017.24 661.72 L2018.51 664.19 L2019.70 666.71 L2020.82 669.26 L2021.87 671.83 L2022.85 674.42 L2023.77 677.02 L2024.63 679.62 L2025.43 682.22 L2026.17 684.81 L2026.86 687.38 L2027.49 689.93 L2028.08 692.45 L2028.62 694.93 L2028.6999999999998 724 L1806.6 724 Z" fill="url(#g4)"/><path d="M1806.61 585.73 L1807.65 588.36 L1808.61 590.98 L1809.52 593.59 L1810.36 596.19 L1811.17 598.78 L1811.93 601.37 L1812.67 603.94 L1813.38 606.51 L1814.09 609.07 L1814.79 611.62 L1815.49 614.16 L1816.21 616.70 L1816.94 619.22 L1817.71 621.74 L1818.52 624.25 L1819.37 626.75 L1820.28 629.24 L1821.25 631.73 L1822.30 634.20 L1823.42 636.67 L1824.64 639.13 L1825.95 641.58 L1827.36 644.01 L1828.88 646.44 L1830.50 648.83 L1832.21 651.19 L1834.00 653.49 L1835.88 655.73 L1837.83 657.91 L1839.84 659.99 L1841.93 661.99 L1844.07 663.88 L1846.26 665.66 L1848.49 667.31 L1850.77 668.82 L1853.08 670.18 L1855.42 671.39 L1857.79 672.43 L1860.17 673.29 L1862.58 673.98 L1865.00 674.51 L1867.43 674.88 L1869.88 675.10 L1872.34 675.17 L1874.81 675.10 L1877.29 674.90 L1879.78 674.57 L1882.28 674.13 L1884.78 673.56 L1887.29 672.89 L1889.80 672.11 L1892.32 671.23 L1894.84 670.27 L1897.35 669.22 L1899.86 668.09 L1902.38 666.88 L1904.88 665.61 L1907.38 664.28 L1909.88 662.89 L1912.36 661.46 L1914.84 659.98 L1917.31 658.46 L1919.76 656.91 L1922.20 655.34 L1924.63 653.75 L1927.04 652.14 L1929.43 650.53 L1931.81 648.92 L1934.16 647.31 L1936.50 645.72 L1938.81 644.14 L1941.12 642.60 L1943.41 641.10 L1945.70 639.66 L1947.99 638.28 L1950.28 636.98 L1952.59 635.77 L1954.91 634.66 L1957.25 633.67 L1959.62 632.80 L1962.02 632.07 L1964.46 631.48 L1966.93 631.06 L1969.46 630.81 L1972.03 630.74 L1974.64 630.85 L1977.27 631.14 L1979.92 631.59 L1982.57 632.21 L1985.20 632.98 L1987.81 633.91 L1990.37 634.98 L1992.87 636.19 L1995.31 637.53 L1997.66 639.00 L1999.91 640.60 L2002.06 642.31 L2004.12 644.12 L2006.07 646.04 L2007.93 648.05 L2009.70 650.15 L2011.37 652.33 L2012.96 654.59 L2014.47 656.91 L2015.89 659.29 L2017.24 661.72 L2018.51 664.19 L2019.70 666.71 L2020.82 669.26 L2021.87 671.83 L2022.85 674.42 L2023.77 677.02 L2024.63 679.62 L2025.43 682.22 L2026.17 684.81 L2026.86 687.38 L2027.49 689.93 L2028.08 692.45 L2028.62 694.93" stroke="#d0302f" stroke-width="3" fill="none" stroke-linecap="round"/>
</svg>
<div class="t" style="left:116.90px;top:65.55px;font-size:49.71px;line-height:49.71px;font-weight:700;color:#0e1222;transform:scaleX(0.8623);">Digix</div><div class="t" style="left:82.60px;top:170.58px;font-size:17.44px;line-height:17.44px;font-weight:400;color:#8c9099;transform:scaleX(0.9061);">MAIN MENU</div><div class="t" style="left:126.40px;top:226.77px;font-size:23.26px;line-height:23.26px;font-weight:400;color:#ffffff;transform:scaleX(0.9497);-webkit-text-stroke:0.70px #ffffff;">Dashboard</div><div class="t" style="left:126.20px;top:294.81px;font-size:23.98px;line-height:23.98px;font-weight:400;color:#7f838e;transform:scaleX(0.9234);">Order Management</div><div class="t" style="left:126.20px;top:363.51px;font-size:23.98px;line-height:23.98px;font-weight:400;color:#7f838e;transform:scaleX(0.9167);">Customers</div><div class="t" style="left:126.20px;top:432.21px;font-size:23.98px;line-height:23.98px;font-weight:400;color:#7f838e;transform:scaleX(0.8873);">Coupon Code</div><div class="t" style="left:126.20px;top:500.91px;font-size:23.98px;line-height:23.98px;font-weight:400;color:#7f838e;transform:scaleX(0.9202);">Categories</div><div class="t" style="left:126.20px;top:569.61px;font-size:23.98px;line-height:23.98px;font-weight:400;color:#7f838e;transform:scaleX(0.9312);">Transaction</div><div class="t" style="left:126.80px;top:638.21px;font-size:23.98px;line-height:23.98px;font-weight:400;color:#7f838e;transform:scaleX(0.8933);">Brand</div><div class="t" style="left:82.60px;top:724.94px;font-size:16.72px;line-height:16.72px;font-weight:400;color:#8c9099;transform:scaleX(0.8905);">PRODUCTS</div><div class="t" style="left:127.10px;top:780.01px;font-size:23.98px;line-height:23.98px;font-weight:400;color:#7f838e;transform:scaleX(0.9235);">Add Products</div><div class="t" style="left:127.10px;top:848.91px;font-size:23.98px;line-height:23.98px;font-weight:400;color:#7f838e;transform:scaleX(0.9350);">Product List</div><div class="t" style="left:82.60px;top:935.64px;font-size:16.72px;line-height:16.72px;font-weight:400;color:#8c9099;transform:scaleX(0.9513);">ADMIN</div><div class="t" style="left:127.10px;top:990.01px;font-size:23.98px;line-height:23.98px;font-weight:400;color:#7f838e;transform:scaleX(0.9218);">Manage Admins</div><div class="t" style="left:127.10px;top:1058.71px;font-size:23.98px;line-height:23.98px;font-weight:400;color:#7f838e;transform:scaleX(0.9045);">Admin Roles</div><div class="t" style="left:450.80px;top:76.89px;font-size:38.23px;line-height:38.23px;font-weight:700;color:#23262d;transform:scaleX(0.8722);">Dashboard</div><div class="t" style="left:1958.90px;top:75.49px;font-size:19.62px;line-height:19.62px;font-weight:400;color:#ffffff;transform:scaleX(0.9550);-webkit-text-stroke:0.59px #ffffff;">4</div><div class="t" style="left:487.00px;top:213.83px;font-size:28.34px;line-height:28.34px;font-weight:400;color:#23262d;transform:scaleX(0.9128);-webkit-text-stroke:0.85px #23262d;">Total Sales &amp; Costs</div><div class="t" style="left:487.00px;top:255.45px;font-size:22.09px;line-height:22.09px;font-weight:400;color:#9a9da6;transform:scaleX(0.8893);">Last 7 days</div><div class="t" style="left:488.40px;top:325.45px;font-size:50.29px;line-height:50.29px;font-weight:700;color:#23262d;transform:scaleX(0.9946);">$350K</div><div class="t" style="left:656.00px;top:344.00px;font-size:28.20px;line-height:28.20px;font-weight:700;color:#17b2f2;">$235K</div><div class="t" style="left:515.70px;top:400.22px;font-size:21.37px;line-height:21.37px;font-weight:400;color:#22a861;transform:scaleX(0.9629);">8.56K</div><div class="t" style="left:584.00px;top:400.22px;font-size:21.37px;line-height:21.37px;font-weight:400;color:#8e929b;transform:scaleX(0.9144);">vs last 7 days</div><div class="t" style="left:833.30px;top:211.04px;font-size:18.31px;line-height:18.31px;font-weight:400;color:#2b2e36;transform:scaleX(0.9217);">Sales</div><div class="t" style="left:917.40px;top:211.04px;font-size:18.31px;line-height:18.31px;font-weight:400;color:#2b2e36;transform:scaleX(0.9326);">Cost</div><div class="t" style="left:815.60px;top:403.90px;font-size:15.41px;line-height:15.41px;font-weight:400;color:#8d909a;transform:scaleX(0.9117);">MON</div><div class="t" style="left:902.00px;top:403.90px;font-size:15.41px;line-height:15.41px;font-weight:400;color:#8d909a;transform:scaleX(0.8340);">TUE</div><div class="t" style="left:980.40px;top:403.90px;font-size:15.41px;line-height:15.41px;font-weight:400;color:#8d909a;transform:scaleX(0.8645);">WED</div><div class="t" style="left:1065.00px;top:403.90px;font-size:15.41px;line-height:15.41px;font-weight:400;color:#8d909a;transform:scaleX(0.8749);">THU</div><div class="t" style="left:1146.30px;top:403.90px;font-size:15.41px;line-height:15.41px;font-weight:400;color:#8d909a;transform:scaleX(0.8345);">FRI</div><div class="t" style="left:1221.00px;top:403.90px;font-size:15.41px;line-height:15.41px;font-weight:400;color:#8d909a;transform:scaleX(0.8885);">SAT</div><div class="t" style="left:1299.40px;top:403.90px;font-size:15.41px;line-height:15.41px;font-weight:400;color:#8d909a;transform:scaleX(0.9013);">SUN</div><div class="t" style="left:1448.30px;top:213.53px;font-size:28.34px;line-height:28.34px;font-weight:400;color:#23262d;transform:scaleX(0.8977);-webkit-text-stroke:0.85px #23262d;">Sessions</div><div class="t" style="left:1448.00px;top:255.35px;font-size:22.09px;line-height:22.09px;font-weight:400;color:#9a9da6;transform:scaleX(0.8911);">Last 7 days</div><div class="t" style="left:1449.00px;top:326.07px;font-size:49.85px;line-height:49.85px;font-weight:700;color:#23262d;transform:scaleX(0.8925);">16.5K</div><div class="t" style="left:1476.30px;top:400.22px;font-size:21.37px;line-height:21.37px;font-weight:400;color:#d0302f;transform:scaleX(0.9555);">3%</div><div class="t" style="left:1519.80px;top:400.22px;font-size:21.37px;line-height:21.37px;font-weight:400;color:#8e929b;transform:scaleX(0.9152);">vs last 7 days</div><div class="t" style="left:487.00px;top:532.33px;font-size:28.34px;line-height:28.34px;font-weight:400;color:#23262d;transform:scaleX(0.9201);-webkit-text-stroke:0.85px #23262d;">Total Orders</div><div class="t" style="left:487.00px;top:573.95px;font-size:22.09px;line-height:22.09px;font-weight:400;color:#9a9da6;transform:scaleX(0.8893);">Last 7 days</div><div class="t" style="left:488.40px;top:644.77px;font-size:49.85px;line-height:49.85px;font-weight:700;color:#23262d;transform:scaleX(0.9210);">25.7K</div><div class="t" style="left:515.30px;top:718.82px;font-size:21.37px;line-height:21.37px;font-weight:400;color:#22a861;transform:scaleX(0.9490);">6%</div><div class="t" style="left:558.50px;top:718.82px;font-size:21.37px;line-height:21.37px;font-weight:400;color:#8e929b;transform:scaleX(0.9129);">vs last 7 days</div><div class="t" style="left:1036.50px;top:532.33px;font-size:28.34px;line-height:28.34px;font-weight:400;color:#23262d;transform:scaleX(0.9595);-webkit-text-stroke:0.85px #23262d;">Total Profit</div><div class="t" style="left:1036.50px;top:573.95px;font-size:22.09px;line-height:22.09px;font-weight:400;color:#9a9da6;transform:scaleX(0.8893);">Last 7 days</div><div class="t" style="left:1037.60px;top:644.77px;font-size:49.85px;line-height:49.85px;font-weight:700;color:#23262d;transform:scaleX(0.9619);">50K</div><div class="t" style="left:1064.70px;top:718.82px;font-size:21.37px;line-height:21.37px;font-weight:400;color:#22a861;transform:scaleX(0.8565);">12%</div><div class="t" style="left:1114.60px;top:718.82px;font-size:21.37px;line-height:21.37px;font-weight:400;color:#8e929b;transform:scaleX(0.9144);">vs last 7 days</div><div class="t" style="left:1586.50px;top:532.33px;font-size:28.34px;line-height:28.34px;font-weight:400;color:#23262d;transform:scaleX(0.9238);-webkit-text-stroke:0.85px #23262d;">Discounted Amount</div><div class="t" style="left:1586.50px;top:573.95px;font-size:22.09px;line-height:22.09px;font-weight:400;color:#9a9da6;transform:scaleX(0.8893);">Last 7 days</div><div class="t" style="left:1587.00px;top:644.77px;font-size:49.85px;line-height:49.85px;font-weight:700;color:#23262d;transform:scaleX(0.8329);">12K</div><div class="t" style="left:1613.40px;top:718.82px;font-size:21.37px;line-height:21.37px;font-weight:400;color:#d0302f;transform:scaleX(0.9587);">2%</div><div class="t" style="left:1655.70px;top:718.82px;font-size:21.37px;line-height:21.37px;font-weight:400;color:#8e929b;transform:scaleX(0.9137);">vs last 7 days</div><div class="t" style="left:487.00px;top:853.27px;font-size:28.05px;line-height:28.05px;font-weight:400;color:#23262d;transform:scaleX(0.9370);-webkit-text-stroke:0.84px #23262d;">Reports</div><div class="t" style="left:487.00px;top:890.95px;font-size:22.09px;line-height:22.09px;font-weight:400;color:#9a9da6;transform:scaleX(0.8855);">Last 7 Days</div><div class="t" style="left:498.90px;top:969.39px;font-size:36.63px;line-height:36.63px;font-weight:700;color:#23262d;transform:scaleX(1.0120);">24k</div><div class="t" style="left:670.20px;top:969.39px;font-size:36.63px;line-height:36.63px;font-weight:700;color:#23262d;transform:scaleX(1.0249);">3.5k</div><div class="t" style="left:841.50px;top:969.39px;font-size:36.63px;line-height:36.63px;font-weight:700;color:#23262d;transform:scaleX(1.0249);">2.5k</div><div class="t" style="left:1013.30px;top:969.39px;font-size:36.63px;line-height:36.63px;font-weight:700;color:#23262d;transform:scaleX(1.0179);">0.5k</div><div class="t" style="left:1184.70px;top:969.39px;font-size:36.63px;line-height:36.63px;font-weight:700;color:#23262d;transform:scaleX(1.0553);">250k</div><div class="t" style="left:498.60px;top:1017.23px;font-size:20.35px;line-height:20.35px;font-weight:400;color:#7f838d;transform:scaleX(0.9117);">Customers</div><div class="t" style="left:670.20px;top:1017.23px;font-size:20.35px;line-height:20.35px;font-weight:400;color:#7f838d;transform:scaleX(0.9262);">Total Products</div><div class="t" style="left:841.50px;top:1017.23px;font-size:20.35px;line-height:20.35px;font-weight:400;color:#7f838d;transform:scaleX(0.9346);">Stock Products</div><div class="t" style="left:1013.30px;top:1017.23px;font-size:20.35px;line-height:20.35px;font-weight:400;color:#7f838d;transform:scaleX(0.9213);">Out of Stock</div><div class="t" style="left:1184.70px;top:1017.23px;font-size:20.35px;line-height:20.35px;font-weight:400;color:#7f838d;transform:scaleX(0.8700);">Revenue</div><div class="t" style="left:1448.40px;top:852.87px;font-size:28.05px;line-height:28.05px;font-weight:400;color:#23262d;transform:scaleX(0.9291);-webkit-text-stroke:0.84px #23262d;">Users in last 30 minutes</div><div class="t" style="left:1449.00px;top:894.74px;font-size:49.13px;line-height:49.13px;font-weight:700;color:#23262d;transform:scaleX(0.9110);">16.5K</div><div class="t" style="left:1448.00px;top:957.14px;font-size:21.51px;line-height:21.51px;font-weight:400;color:#9a9da6;transform:scaleX(0.9291);">Users per minute</div>
</div></div></div>
</body></html>
